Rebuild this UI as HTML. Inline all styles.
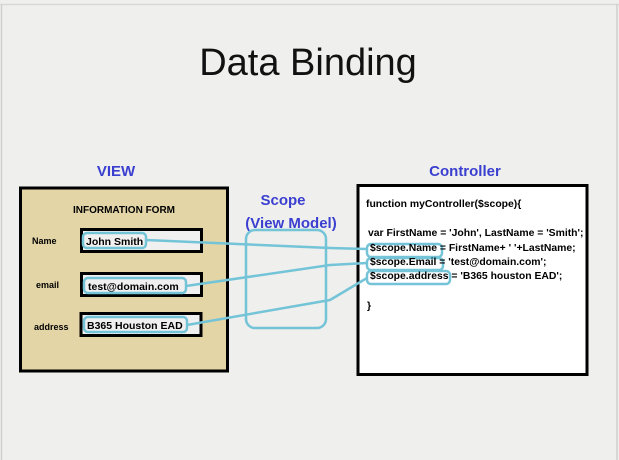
<!DOCTYPE html>
<html><head><style>
html,body{margin:0;padding:0;background:#efefed;}
svg{display:block;}
text{font-family:"Liberation Sans",sans-serif;}
</style></head><body>
<svg width="619" height="460" viewBox="0 0 619 460" xmlns="http://www.w3.org/2000/svg">
<rect x="0" y="0" width="619" height="460" fill="#efefed"/>
<line x1="1.5" y1="4" x2="1.5" y2="460" stroke="#cfcfcf" stroke-width="1.5"/>
<line x1="0" y1="4.5" x2="619" y2="4.5" stroke="#d8d8d8" stroke-width="1.5"/>
<line x1="617" y1="4" x2="617" y2="460" stroke="#cfcfcf" stroke-width="1.5"/>
<text x="308" y="75" font-size="38" text-anchor="middle" fill="#111">Data Binding</text>

<text x="116" y="176" font-size="15" font-weight="bold" text-anchor="middle" fill="#3a3fd0">VIEW</text>
<text x="283" y="205" font-size="15" font-weight="bold" text-anchor="middle" fill="#3a3fd0">Scope</text>
<text x="291" y="228" font-size="15" font-weight="bold" text-anchor="middle" fill="#3a3fd0">(View Model)</text>
<text x="465" y="176" font-size="15" font-weight="bold" text-anchor="middle" fill="#3a3fd0">Controller</text>

<rect x="20.5" y="188" width="207" height="183" fill="#e3d5a6" stroke="#000" stroke-width="3"/>
<text x="124" y="213" font-size="10" font-weight="bold" text-anchor="middle">INFORMATION FORM</text>
<text x="32" y="244" font-size="9" font-weight="bold">Name</text>
<text x="36" y="288" font-size="9" font-weight="bold">email</text>
<text x="34" y="330" font-size="9" font-weight="bold">address</text>

<rect x="81.5" y="229.5" width="120" height="22" fill="#f0f0f0" stroke="#000" stroke-width="3"/>
<rect x="81.5" y="273.5" width="120" height="22" fill="#f0f0f0" stroke="#000" stroke-width="3"/>
<rect x="81" y="313.5" width="120" height="22" fill="#f0f0f0" stroke="#000" stroke-width="3"/>

<rect x="358" y="185.5" width="229" height="189" fill="#fff" stroke="#000" stroke-width="3"/>
<g fill="none" stroke="#74c4d8" stroke-width="2.5">
<rect x="246" y="230" width="80" height="98" rx="9"/>
<rect x="83" y="233" width="63" height="15" rx="4"/>
<rect x="84" y="278" width="102" height="15" rx="4"/>
<rect x="84" y="317" width="103" height="15" rx="4"/>
<rect x="367" y="244" width="75" height="13" rx="4"/>
<rect x="367" y="258" width="76" height="12" rx="4"/>
<rect x="367" y="271" width="83" height="13" rx="4"/>
<polyline points="146,240 330,248 367,249"/>
<polyline points="186,286 330,265 367,263"/>
<polyline points="187,325 330,300 367,278"/>
</g>
<g font-size="10.4" font-weight="bold" fill="#000">
<text x="366" y="207">function myController($scope){</text>
<text x="368" y="236">var FirstName = 'John', LastName = 'Smith';</text>
<text x="370" y="251">$scope.Name = FirstName+ ' '+LastName;</text>
<text x="370" y="265">$scope.Email = 'test@domain.com';</text>
<text x="370" y="279">$scope.address = 'B365 houston EAD';</text>
<text x="367" y="309">}</text>
</g>
<text x="86" y="245" font-size="10.5" font-weight="bold">John Smith</text>
<text x="88" y="290" font-size="10.5" font-weight="bold">test@domain.com</text>
<text x="87" y="329" font-size="10.5" font-weight="bold">B365 Houston EAD</text>
</svg>
</body></html>
